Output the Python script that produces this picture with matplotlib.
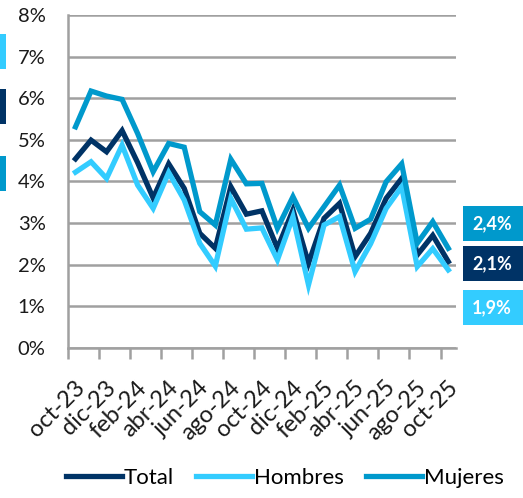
import matplotlib
matplotlib.use("Agg")
import matplotlib.pyplot as plt
from matplotlib.patches import Rectangle
from matplotlib.ticker import FixedLocator
from matplotlib.transforms import ScaledTranslation

plt.rcParams['font.family'] = ['Lato', 'DejaVu Sans']

# monthly oct-23 .. oct-25
months = ["oct-23", "nov-23", "dic-23", "ene-24", "feb-24", "mar-24", "abr-24", "may-24",
          "jun-24", "jul-24", "ago-24", "sep-24", "oct-24", "nov-24", "dic-24", "ene-25",
          "feb-25", "mar-25", "abr-25", "may-25", "jun-25", "jul-25", "ago-25", "sep-25", "oct-25"]

total = [4.54, 4.99, 4.71, 5.22, 4.45, 3.60, 4.42, 3.83, 2.75, 2.39, 3.87, 3.21, 3.29,
         2.39, 3.31, 2.03, 3.11, 3.47, 2.19, 2.75, 3.59, 4.07, 2.23, 2.70, 2.07]
hombres = [4.22, 4.47, 4.07, 4.87, 3.91, 3.35, 4.21, 3.55, 2.51, 1.96, 3.59, 2.85, 2.88,
           2.11, 3.15, 1.51, 2.95, 3.15, 1.83, 2.50, 3.35, 3.87, 1.95, 2.38, 1.87]
mujeres = [5.31, 6.17, 6.05, 5.97, 5.15, 4.23, 4.91, 4.82, 3.27, 2.95, 4.53, 3.94, 3.95,
           2.87, 3.63, 2.87, 3.39, 3.91, 2.87, 3.09, 3.99, 4.42, 2.51, 3.03, 2.39]

series = [("Total", total, "#003366"),
          ("Hombres", hombres, "#33CCFF"),
          ("Mujeres", mujeres, "#0099CC")]

fig = plt.figure(figsize=(5.23, 4.98), dpi=100)
ax = fig.add_axes([0.1295, 0.3018, 0.7425, 0.6682])

x = list(range(len(months)))
for name, vals, col in series:
    ax.plot(x, vals, color=col, lw=3.8, label=name, solid_joinstyle="miter")

ax.set_xlim(-0.5, len(months) - 0.5)
ax.set_ylim(0, 8)
ax.set_yticks(range(0, 9))
ax.set_yticklabels([f"{v}%" for v in range(0, 9)], fontsize=14.5, color="#1a1a1a")
ax.yaxis.grid(True, color="#a0a0a0", lw=1.8)
ax.set_axisbelow(True)

ax.tick_params(axis="x", which="major", length=0, pad=26.5)
ax.xaxis.set_minor_locator(FixedLocator([i - 0.5 for i in range(0, len(months) + 1, 2)]))
ax.tick_params(axis="x", which="minor", length=8, width=1.8, color="#a0a0a0")
ax.tick_params(axis="y", length=0, pad=16)

# labels sit under every second month, nudged right like the original
ax.set_xticks(x[::2])
ax.set_xticklabels(months[::2], rotation=45, ha="right", va="center", rotation_mode="anchor",
                   fontsize=17, color="#1a1a1a")
shift = ScaledTranslation(6 / 100, 0, fig.dpi_scale_trans)
for lbl in ax.get_xticklabels():
    lbl.set_transform(lbl.get_transform() + shift)

for s in ["top", "right"]:
    ax.spines[s].set_visible(False)
for s in ["left", "bottom"]:
    ax.spines[s].set_color("#a0a0a0")
    ax.spines[s].set_linewidth(1.8)

# end-value boxes
boxes = [(mujeres[-1], "#0099CC", 206), (total[-1], "#003366", 246), (hombres[-1], "#33CCFF", 290)]
for val, col, ytop in boxes:
    y0 = 1 - (ytop + 35) / 498
    fig.patches.append(Rectangle((463 / 523, y0), 60 / 523, 35 / 498, transform=fig.transFigure,
                                 facecolor=col, edgecolor="none"))
    fig.text(492 / 523, y0 + 17.5 / 498, f"{val:.1f}%".replace(".", ","), color="white",
             fontsize=13, fontweight="bold", ha="center", va="center")

# cropped markers on left edge
for col, ytop in [("#33CCFF", 34), ("#003366", 89), ("#0099CC", 156)]:
    fig.patches.append(Rectangle((0, 1 - (ytop + 35) / 498), 6 / 523, 35 / 498,
                                 transform=fig.transFigure, facecolor=col, edgecolor="none"))

fig.legend(loc="center", bbox_to_anchor=(0.545, 0.04), ncol=3, frameon=False,
           fontsize=16, handlelength=2.5, handletextpad=0.1, columnspacing=1.0)

fig.savefig("out.png", dpi=100)
